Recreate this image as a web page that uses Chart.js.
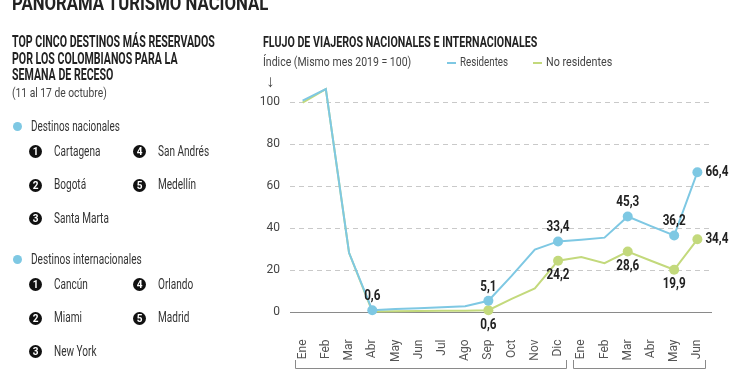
<!DOCTYPE html>
<html>
<head>
<meta charset="utf-8">
<script src="https://cdn.jsdelivr.net/npm/chart.js@4/dist/chart.umd.min.js"></script>
<style>
  body { margin: 0; background: #fff; }
  #wrap { position: relative; width: 750px; height: 375px; overflow: hidden;
    font-family: "Roboto", "Liberation Sans", sans-serif; color: #333; }
  #wrap div { position: absolute; white-space: nowrap; }
  canvas { position: absolute; left: 0; top: 0; }
  .c { transform: scaleX(0.67); transform-origin: 0 0; }
  [data-w] { transform-origin: 0 0; }
  .h1 { left: 12px; top: -9px; font-size: 21px; font-weight: bold; color: #222; }
  .h2 { font-size: 16px; font-weight: bold; color: #222; line-height: 16.5px; }
  .sub { font-size: 13px; color: #444; }
  .dot { width: 9px; height: 9px; border-radius: 50%; background: #7ec8e3; }
  .num { width: 13px; height: 13px; border-radius: 50%; background: #111; color: #fff;
    font-size: 10px; font-weight: bold; text-align: center; line-height: 13px; }
  .it { font-size: 15px; color: #333; }
</style>
</head>
<body>
<div id="wrap">
  <canvas id="chart" width="750" height="375"></canvas>
  <div class="h1" data-w="256">PANORAMA TURISMO NACIONAL</div>

  <div class="h2" data-w="203" style="left:12px; top:34px;">TOP CINCO DESTINOS MÁS RESERVADOS<br>POR LOS COLOMBIANOS PARA LA<br>SEMANA DE RECESO</div>
  <div class="sub" data-w="95" style="left:12px; top:85px;">(11 al 17 de octubre)</div>

  <div class="dot" style="left:13px; top:122px;"></div>
  <div class="it" data-w="89" style="left:31px; top:117px;">Destinos nacionales</div>
  <div id="nac"></div>

  <div class="dot" style="left:13px; top:255px;"></div>
  <div class="it" data-w="111" style="left:31px; top:250px;">Destinos internacionales</div>
  <div id="int"></div>

  <div class="h2" data-w="274" style="left:263px; top:34px; font-size:14px;">FLUJO DE VIAJEROS NACIONALES E INTERNACIONALES</div>
  <div class="sub" data-w="148" style="left:263px; top:54px;">Índice (Mismo mes 2019 = 100)</div>
  <div class="sub" style="left:266px; top:71px; font-size:17px;">↓</div>
  <div style="left:447px; top:62px; width:9px; height:2px; background:#7ec8e3;"></div>
  <div class="sub" data-w="48" style="left:460px; top:54px;">Residentes</div>
  <div style="left:533px; top:62px; width:9px; height:2px; background:#c3d97c;"></div>
  <div class="sub" data-w="66" style="left:546px; top:54px;">No residentes</div>
</div>

<script>
// destinos
const nacionales = ['Cartagena', 'Bogotá', 'Santa Marta', 'San Andrés', 'Medellín'];
const internacionales = ['Cancún', 'Miami', 'New York', 'Orlando', 'Madrid'];

// flujo de viajeros (índice, mismo mes 2019 = 100)
const meses = ['Ene', 'Feb', 'Mar', 'Abr', 'May', 'Jun', 'Jul', 'Ago', 'Sep', 'Oct', 'Nov', 'Dic',
               'Ene', 'Feb', 'Mar', 'Abr', 'May', 'Jun'];
const residentes = [100.5, 106, 28, 0.6, 1.2, 1.6, 2.0, 2.5, 5.1, 17, 29.5, 33.4,
                    34.2, 35.2, 45.3, 40.7, 36.2, 66.4];
const noResidentes = [99.5, 106, 28, 0, 0.1, 0.2, 0.3, 0.4, 0.6, 6, 11, 24.2,
                      26, 23, 28.6, 24.2, 19.9, 34.4];
const yTicks = [0, 20, 40, 60, 80, 100];

// puntos marcados con etiqueta
const marcasRes = [3, 8, 11, 14, 16, 17];
const marcasNoRes = [8, 11, 14, 16, 17];

const azul = '#7ec8e3';
const verde = '#c3d97c';
const fuente = '"Roboto", "Liberation Sans", sans-serif';

function listaDestinos(id, nombres, top) {
    const box = document.getElementById(id);
    nombres.forEach((n, i) => {
        const col = i < 3 ? 0 : 1;
        const row = i < 3 ? i : i - 3;
        const y = top + row * 33.5;
        const x = col ? 133 : 29;
        box.insertAdjacentHTML('beforeend',
            `<div class="num" style="left:${x}px; top:${y - 6.5}px;">${i + 1}</div>` +
            `<div class="it c" style="left:${x + 25}px; top:${y - 10}px;">${n}</div>`);
    });
}
listaDestinos('nac', nacionales, 151.5);
listaDestinos('int', internacionales, 284.5);

// estrechar textos al ancho del original (no hay fuente condensada)
document.querySelectorAll('[data-w]').forEach(el => {
    const w = el.offsetWidth;
    el.style.transform = `scaleX(${el.dataset.w / w})`;
});

function fmt(v) {
    return v.toFixed(1).replace('.', ',');
}

// texto estrecho en el canvas
function texto(c, s, x, y, align) {
    c.save();
    c.translate(x, y);
    c.scale(0.78, 1);
    c.textAlign = align;
    c.fillText(s, 0, 0);
    c.restore();
}

const extras = {
    id: 'extras',
    beforeDatasetsDraw(chart) {
        const c = chart.ctx;
        const y = chart.scales.y;
        c.save();
        yTicks.forEach(t => {
            const py = Math.round(y.getPixelForValue(t)) + 0.5;
            c.beginPath();
            c.lineWidth = 1;
            if (t === 0) {
                c.setLineDash([]);
                c.strokeStyle = '#8a8a8a';
            } else {
                c.setLineDash([5, 4]);
                c.strokeStyle = '#c9c9c9';
            }
            c.moveTo(290, py);
            c.lineTo(712, py);
            c.stroke();
        });
        c.restore();
    },
    afterDatasetsDraw(chart) {
        const c = chart.ctx;
        const x = chart.scales.x;
        c.save();
        c.font = 'bold 15px ' + fuente;
        c.fillStyle = '#222';
        c.textBaseline = 'middle';

        const etiquetas = [
            { ds: 0, idx: marcasRes, pos: i => (i === 17 ? 'right' : 'above') },
            { ds: 1, idx: marcasNoRes, pos: i => (i === 17 ? 'right' : 'below') }
        ];
        etiquetas.forEach(e => {
            const meta = chart.getDatasetMeta(e.ds);
            const vals = chart.data.datasets[e.ds].data;
            e.idx.forEach(i => {
                const p = meta.data[i];
                const where = e.pos(i);
                if (where === 'right') {
                    texto(c, fmt(vals[i]), p.x + 8, p.y, 'left');
                } else if (where === 'above') {
                    texto(c, fmt(vals[i]), p.x, p.y - 14, 'center');
                } else {
                    texto(c, fmt(vals[i]), p.x, p.y + 15, 'center');
                }
            });
        });

        // corchetes de años
        c.strokeStyle = '#8a8a8a';
        c.lineWidth = 1;
        const corchete = (a, b) => {
            const x0 = Math.round(x.getPixelForValue(a) - 8) + 0.5;
            const x1 = Math.round(x.getPixelForValue(b) + 8) + 0.5;
            c.beginPath();
            c.moveTo(x0, 360);
            c.lineTo(x0, 368.5);
            c.lineTo(x1, 368.5);
            c.lineTo(x1, 360);
            c.stroke();
        };
        corchete(0, 11);
        corchete(12, 17);
        c.restore();
    }
};

Chart.defaults.font.family = fuente;

function radios(marcas) {
    return meses.map((m, i) => (marcas.includes(i) ? 5 : 0));
}

new Chart(document.getElementById('chart'), {
    type: 'line',
    data: {
        labels: meses,
        datasets: [{
            label: 'Residentes',
            data: residentes,
            borderColor: azul,
            backgroundColor: azul,
            borderWidth: 2,
            pointRadius: radios(marcasRes),
            pointBorderWidth: 0,
            tension: 0,
            clip: false
        }, {
            label: 'No residentes',
            data: noResidentes,
            borderColor: verde,
            backgroundColor: verde,
            borderWidth: 2,
            pointRadius: radios(marcasNoRes),
            pointBorderWidth: 0,
            tension: 0,
            clip: false
        }]
    },
    options: {
        responsive: false,
        animation: false,
        devicePixelRatio: 1,
        layout: { padding: { left: 250, right: 41, top: 80.7, bottom: 0 } },
        plugins: {
            legend: { display: false },
            title: { display: false },
            tooltip: { enabled: false }
        },
        scales: {
            x: {
                offset: true,
                grid: { display: false, drawTicks: false },
                border: { display: false },
                ticks: {
                    color: '#555',
                    font: { size: 12 },
                    minRotation: 90,
                    maxRotation: 90,
                    padding: 28,
                    autoSkip: false
                },
                afterFit(scale) { scale.height = 63.5; }
            },
            y: {
                min: 0,
                max: 110,
                grid: { display: false, drawTicks: false },
                border: { display: false },
                ticks: {
                    stepSize: 20,
                    color: '#444',
                    font: { size: 12 },
                    padding: 11
                },
                afterBuildTicks(scale) {
                    scale.ticks = yTicks.map(v => ({ value: v }));
                },
                afterFit(scale) { scale.width = 41; }
            }
        }
    },
    plugins: [extras]
});
</script>
</body>
</html>
